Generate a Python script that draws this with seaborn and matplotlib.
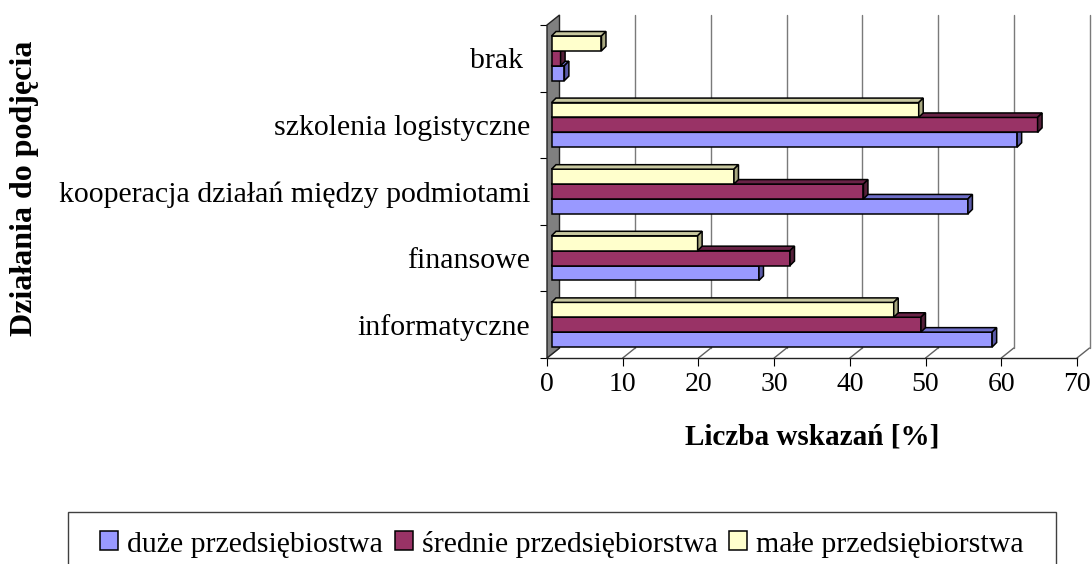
import matplotlib
matplotlib.use("Agg")
import matplotlib.pyplot as plt
from matplotlib.patches import Patch, Polygon, Rectangle
import seaborn as sns
import pandas as pd

# categories top -> bottom as in the chart
kategorie = ["brak ", "szkolenia logistyczne", "kooperacja działań między podmiotami",
             "finansowe", "informatyczne"]
duze = [1.7, 61.5, 55.0, 27.4, 58.2]
srednie = [1.2, 64.2, 41.2, 31.5, 48.8]
male = [6.6, 48.5, 24.1, 19.3, 45.2]

serie = ["duże przedsiębiostwa", "średnie przedsiębiorstwa", "małe przedsiębiorstwa"]
kolory = {"duże przedsiębiostwa": "#9999FF",
          "średnie przedsiębiorstwa": "#993366",
          "małe przedsiębiorstwa": "#FFFFCC"}
gora = {"duże przedsiębiostwa": "#6E6EC8",
        "średnie przedsiębiorstwa": "#6A2347",
        "małe przedsiębiorstwa": "#C8C8A0"}
bok = {"duże przedsiębiostwa": "#5A5AA8",
       "średnie przedsiębiorstwa": "#55203A",
       "małe przedsiębiorstwa": "#A8A880"}

df = pd.DataFrame({
    "dzialanie": kategorie * 3,
    "wartosc": duze + srednie + male,
    "typ": [serie[0]] * 5 + [serie[1]] * 5 + [serie[2]] * 5,
})

sns.set_style("white")
plt.rcParams["font.family"] = ["Liberation Serif", "DejaVu Serif"]
plt.rcParams["text.color"] = "black"
plt.rcParams["axes.labelcolor"] = "black"
plt.rcParams["xtick.color"] = "black"
plt.rcParams["ytick.color"] = "black"

fig = plt.figure(figsize=(10.92, 5.64), dpi=100)
ax = fig.add_axes([547 / 1092, 1 - 358 / 564, 530 / 1092, 333 / 564])

kolejnosc = [serie[2], serie[1], serie[0]]  # małe on top within a group
sns.barplot(data=df, x="wartosc", y="dzialanie", hue="typ", order=kategorie,
            hue_order=kolejnosc, palette=kolory, saturation=1, width=0.67,
            edgecolor="black", linewidth=1.1, legend=False, ax=ax)

ax.set_xlim(0, 70)
ax.set_ylim(4.5, -0.5)

to_disp = ax.transData.transform
from_disp = ax.transData.inverted().transform


def pt(x, y, dx=0.0, dy=0.0):
    X, Y = to_disp((x, y))
    return from_disp((X + dx, Y + dy))


d_bar = 4.5
wall_dx, wall_dy = 12.5, 10.0
shift = 4.5 / (530 / 70)

# 3D faces for bars
for cont, nazwa, z in zip(ax.containers, kolejnosc, [5, 4, 3]):
    for bar in cont:
        bar.set_x(bar.get_x() + shift)
        bar.set_zorder(z)
        x0, y0 = bar.get_x(), bar.get_y()
        w, h = bar.get_width(), bar.get_height()
        (L, Y1), (R, Y2) = to_disp((x0, y0)), to_disp((x0 + w, y0 + h))
        T, B = max(Y1, Y2), min(Y1, Y2)
        top = [(L, T), (R, T), (R + d_bar, T + d_bar), (L + d_bar, T + d_bar)]
        side = [(R, B), (R + d_bar, B + d_bar), (R + d_bar, T + d_bar), (R, T)]
        for pts, c in [(top, gora[nazwa]), (side, bok[nazwa])]:
            ax.add_patch(Polygon([from_disp(p) for p in pts], closed=True,
                                 facecolor=c, edgecolor="black", linewidth=1.1,
                                 zorder=z, clip_on=False))

# back gridlines and floor diagonals
for v in range(0, 71, 10):
    a = pt(v, 4.5)
    b = pt(v, 4.5, wall_dx, wall_dy)
    ax.plot([a[0], b[0]], [a[1], b[1]], color="#606060", lw=1.0, zorder=1, clip_on=False)
    if v > 0:
        c = pt(v, -0.5, wall_dx, wall_dy)
        ax.plot([b[0], c[0]], [b[1], c[1]], color="#7a7a7a", lw=1.0, zorder=1, clip_on=False)

# left wall
sciana = [pt(0, 4.5), pt(0, 4.5, wall_dx, wall_dy), pt(0, -0.5, wall_dx, wall_dy), pt(0, -0.5)]
ax.add_patch(Polygon(sciana, closed=True, facecolor="#808080", edgecolor="#222222",
                     linewidth=1.0, zorder=2, clip_on=False))

for s in ["top", "right", "left"]:
    ax.spines[s].set_visible(False)
ax.spines["bottom"].set_color("#222222")
ax.spines["bottom"].set_linewidth(1.0)

ax.set_xticks(range(0, 71, 10))
ax.tick_params(axis="x", direction="out", length=6, width=0.8, labelsize=20,
               pad=4, bottom=True)
ax.set_yticks([-0.5, 0.5, 1.5, 2.5, 3.5, 4.5], minor=True)
ax.tick_params(axis="y", which="major", length=0, labelsize=21.5, pad=12)
ax.tick_params(axis="y", which="minor", length=5, width=0.8, left=True)
ax.set_xlabel("")
ax.set_ylabel("")

fig.text(812 / 1092, 1 - 437 / 564, "Liczba wskazań [%]", ha="center", va="center",
         fontsize=21, fontweight="bold")
fig.text(25 / 1092, 1 - 188 / 564, "Działania do podjęcia", ha="center", va="center",
         rotation=90, fontsize=23, fontweight="bold")

# legend box running off the bottom edge
fig.patches.append(Rectangle((68 / 1092, -0.1), (1056 - 68) / 1092, 0.1 + 1 - 512 / 564,
                             transform=fig.transFigure, fill=False,
                             edgecolor="#404040", linewidth=1.0))
uchwyty = [Patch(facecolor=kolory[s], edgecolor="black", linewidth=1.1) for s in serie]
fig.legend(uchwyty, serie, loc="center", bbox_to_anchor=(562 / 1092, 1 - 544 / 564),
           ncol=3, frameon=False, fontsize=21.5, handlelength=0.6, handleheight=0.6,
           handletextpad=0.3, columnspacing=0.4, borderaxespad=0)

fig.savefig("out.png", dpi=100)
